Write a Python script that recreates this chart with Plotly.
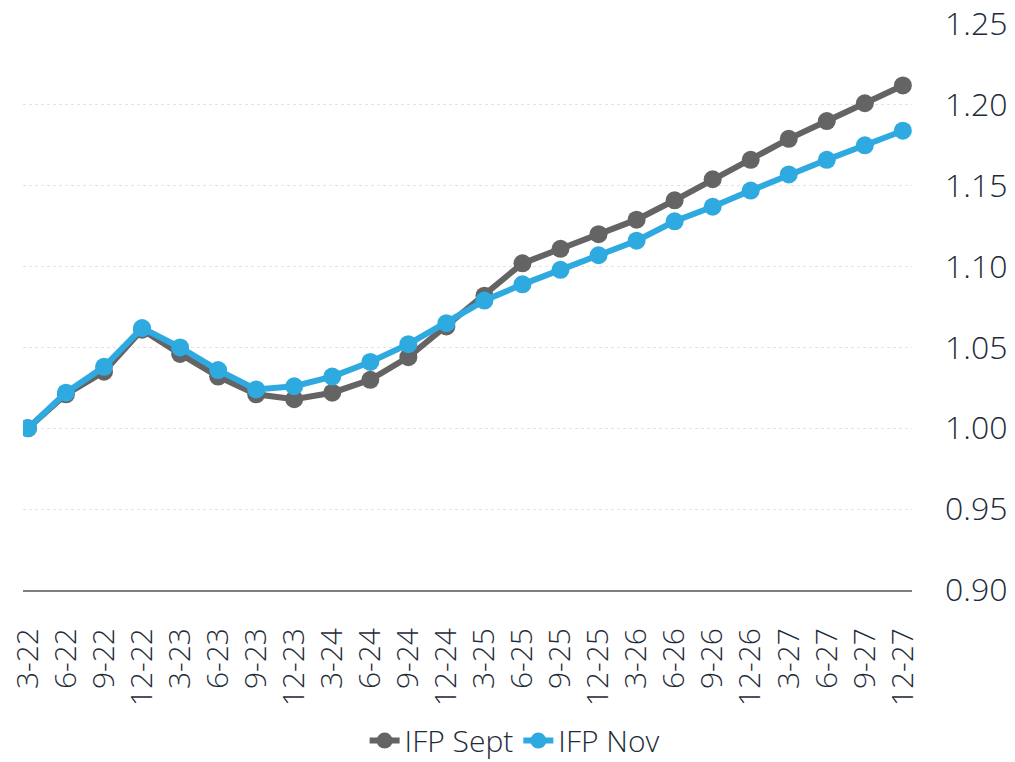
import plotly.graph_objects as go

categories = ["3-22", "6-22", "9-22", "12-22", "3-23", "6-23", "9-23", "12-23",
              "3-24", "6-24", "9-24", "12-24", "3-25", "6-25", "9-25", "12-25",
              "3-26", "6-26", "9-26", "12-26", "3-27", "6-27", "9-27", "12-27"]

ifp_sept = [1.000, 1.021, 1.035, 1.061, 1.046, 1.032, 1.021, 1.018,
            1.022, 1.030, 1.044, 1.063, 1.082, 1.102, 1.111, 1.120,
            1.129, 1.141, 1.154, 1.166, 1.179, 1.190, 1.201, 1.212]

ifp_nov = [1.000, 1.022, 1.038, 1.062, 1.050, 1.036, 1.024, 1.026,
           1.032, 1.041, 1.052, 1.065, 1.079, 1.089, 1.098, 1.107,
           1.116, 1.128, 1.137, 1.147, 1.157, 1.166, 1.175, 1.184]

y_ticks = [0.90, 0.95, 1.00, 1.05, 1.10, 1.15, 1.20, 1.25]

GREY = "#646464"
BLUE = "#2FAAE0"
TEXT = "#1e2b39"

fig = go.Figure()
fig.add_trace(go.Scatter(x=categories, y=ifp_sept, name="IFP Sept", mode="lines+markers",
                         line=dict(color=GREY, width=6), marker=dict(color=GREY, size=18)))
fig.add_trace(go.Scatter(x=categories, y=ifp_nov, name="IFP Nov", mode="lines+markers",
                         line=dict(color=BLUE, width=6), marker=dict(color=BLUE, size=18)))

fig.update_layout(
    width=1015, height=762,
    margin=dict(l=23, r=103, t=24, b=172, autoexpand=False),
    paper_bgcolor="white", plot_bgcolor="white",
    font=dict(family="Open Sans", color=TEXT, size=28, weight=300),
    showlegend=True,
    legend=dict(orientation="h", x=0.553, xanchor="center", y=-0.266, yanchor="middle",
                font=dict(size=30, color=TEXT, weight=300),
                traceorder="normal", tracegroupgap=0),
    xaxis=dict(type="category", range=[-0.13, 23.24], showgrid=False,
               tickangle=-90, tickfont=dict(size=30, color=TEXT, weight=300),
               showline=True, linecolor="#7f7f7f", linewidth=2, ticks="",
               zeroline=False, automargin=False, ticklabelstandoff=24),
    yaxis=dict(side="right", range=[0.90, 1.25], tickvals=y_ticks,
               ticktext=[f"{v:.2f}" for v in y_ticks],
               tickfont=dict(size=32, color=TEXT, weight=300),
               showgrid=True, gridcolor="#e4e4e4", griddash="dot", gridwidth=1,
               zeroline=False, showline=False, ticks="", ticklabelstandoff=32,
               automargin=False),
)

# remove the browser's default 8px body margin so the figure fills the window
fig.write_html("out.html", config={"displayModeBar": False},
               post_script="document.body.style.margin='0';")
